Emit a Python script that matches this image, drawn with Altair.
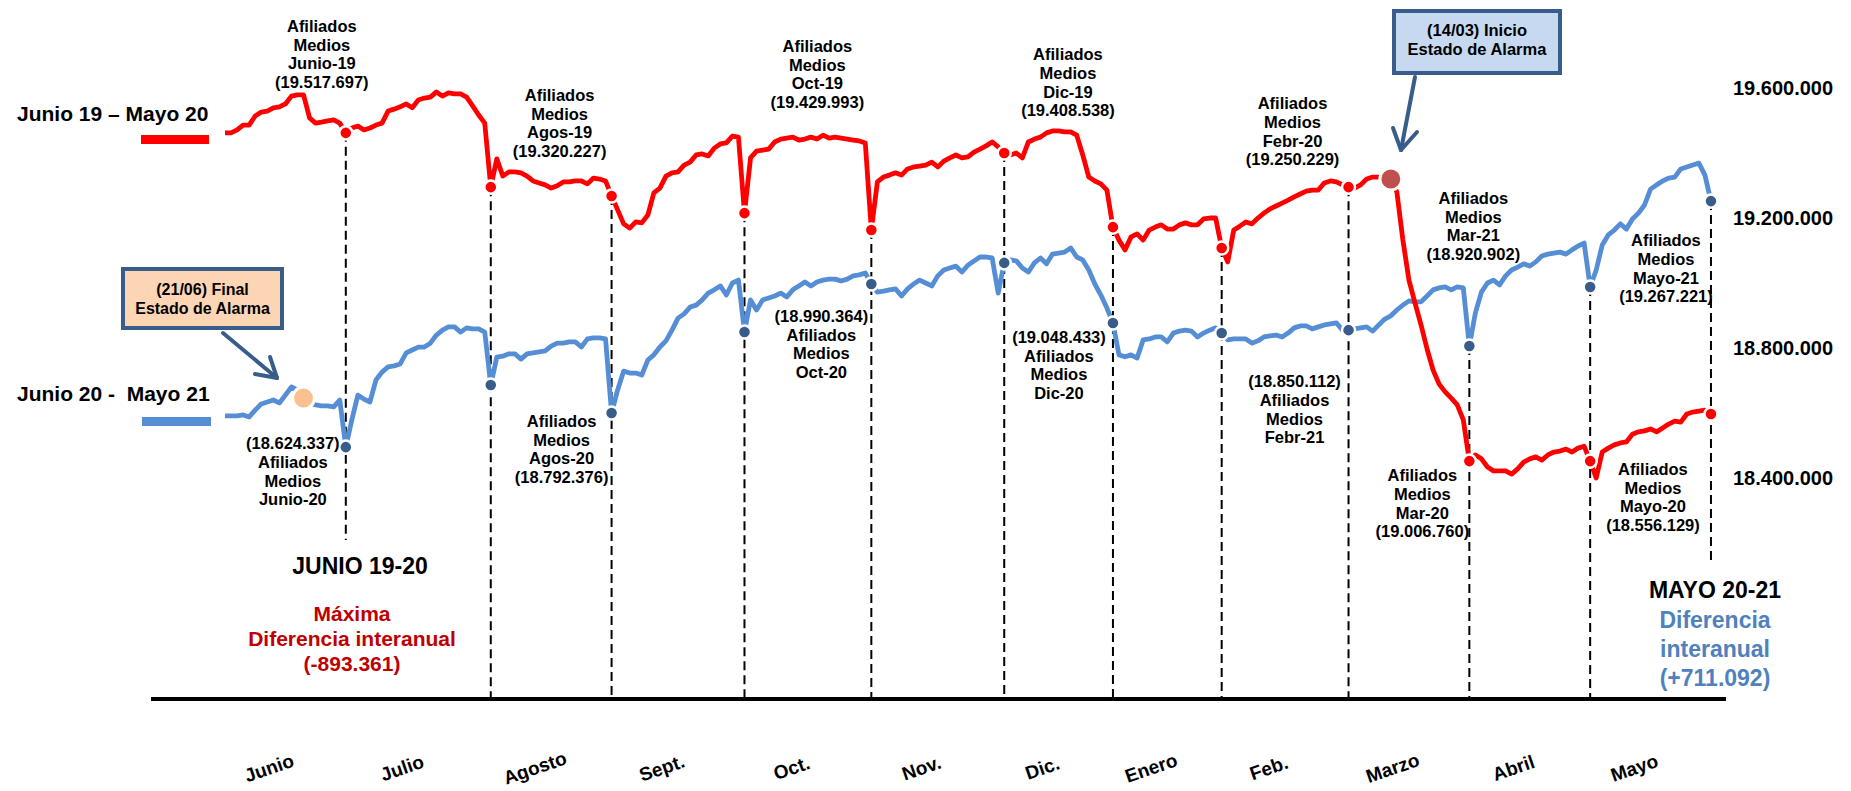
import altair as alt
import pandas as pd

F = "Liberation Sans, Arial, sans-serif"

MESES = ["Junio", "Julio", "Agosto", "Sept.", "Oct.", "Nov.", "Dic.",
         "Enero", "Feb.", "Marzo", "Abril", "Mayo"]

# Afiliados diarios (miles) - Junio 19 a Mayo 20
jun19 = [19465,19465,19474,19489,19489,19517,19529,19532,19542,19545,19554,19578,19582,19582,19511,19495,19498,19502,19505,19495,19465]
jul19 = [19480,19486,19474,19480,19489,19495,19532,19538,19545,19554,19542,19566,19572,19575,19591,19578,19588,19585,19585,19575,19548,19520,19495,19298]
ago19 = [19385,19332,19345,19345,19342,19332,19317,19311,19305,19295,19302,19314,19314,19317,19317,19308,19326,19323,19317,19271]
sep19 = [19228,19185,19172,19191,19188,19212,19280,19295,19332,19342,19345,19366,19375,19397,19400,19394,19418,19431,19434,19455,19452,19218]
oct19 = [19388,19409,19412,19415,19437,19446,19449,19452,19443,19446,19452,19446,19458,19449,19452,19449,19446,19443,19440,19434,19166]
nov19 = [19314,19329,19335,19342,19335,19354,19360,19363,19366,19375,19360,19378,19388,19397,19388,19391,19406,19415,19425,19437,19422,19403]
dic19 = [19397,19403,19388,19437,19446,19452,19465,19471,19471,19468,19468,19458,19397,19329,19317,19308,19289,19175]
ene20 = [19135,19105,19145,19154,19135,19166,19175,19182,19169,19169,19182,19188,19182,19182,19200,19203,19203,19111]
feb20 = [19068,19166,19178,19191,19185,19203,19218,19231,19240,19249,19258,19268,19277,19286,19289,19289,19311,19317,19314,19305,19298]
mar20 = [19295,19305,19323,19329,19329,19329,19323,19283,19135,19012,18942,18874,18800,18735,18692,18668,18649,18628,18582,18455]
abr20 = [18474,18462,18437,18425,18425,18425,18415,18431,18452,18462,18468,18458,18474,18483,18486,18492,18483,18495,18501,18455]
may20 = [18403,18483,18495,18505,18511,18514,18538,18545,18548,18554,18545,18557,18569,18578,18575,18600,18606,18609,18612,18600]

# Afiliados diarios (miles) - Junio 20 a Mayo 21
jun20 = [18594,18594,18594,18597,18591,18612,18631,18637,18643,18634,18658,18683,18674,18649,18634,18628,18625,18625,18622,18643,18498]
jul20 = [18582,18658,18646,18637,18705,18729,18745,18748,18754,18788,18797,18806,18806,18818,18843,18858,18868,18868,18852,18865,18862,18862,18852,18689]
ago20 = [18775,18778,18785,18785,18769,18785,18788,18791,18794,18809,18818,18818,18822,18822,18806,18831,18834,18834,18831,18603]
sep20 = [18674,18732,18726,18726,18720,18766,18782,18806,18825,18858,18895,18908,18929,18935,18951,18972,18982,18994,18966,19003,19012,18852]
oct20 = [18951,18920,18951,18957,18963,18972,18960,18982,18994,19006,18994,19006,19012,19015,19015,19009,19015,19025,19028,19034,19000]
nov20 = [18975,18978,18982,18985,18963,18985,19000,19012,19003,18994,19025,19043,19049,19055,19037,19058,19071,19083,19083,19080,18972,19065]
dic20 = [19074,19071,19049,19037,19065,19080,19062,19092,19095,19098,19111,19083,19074,19043,19000,18966,18926,18880]
ene21 = [18782,18776,18782,18772,18828,18831,18837,18837,18822,18849,18855,18858,18855,18837,18849,18858,18865,18849]
feb21 = [18828,18831,18831,18831,18818,18825,18837,18840,18843,18837,18849,18865,18871,18871,18862,18868,18874,18877,18880,18858,18858]
mar21 = [18862,18865,18868,18855,18874,18892,18902,18920,18935,18948,18945,18945,18963,18982,18988,18991,18982,18991,18988,18809]
abr21 = [18911,18975,19003,19012,18997,19025,19043,19052,19062,19055,19068,19086,19092,19095,19098,19092,19105,19117,19126,18991]
may21 = [19043,19120,19151,19166,19185,19169,19200,19218,19243,19292,19305,19317,19326,19329,19354,19360,19366,19372,19335,19255]

SERIE_A = [jun19, jul19, ago19, sep19, oct19, nov19, dic19, ene20, feb20, mar20, abr20, may20]
SERIE_B = [jun20, jul20, ago20, sep20, oct20, nov20, dic20, ene21, feb21, mar21, abr21, may21]

TICKS = [18400000, 18800000, 19200000, 19600000]

# Afiliados medios mensuales anotados
LAB_MES_IDX = [0, 2, 4, 6, 8, 9, 11]
LAB_A = ["Junio-19", "Agos-19", "Oct-19", "Dic-19", "Febr-20", "Mar-20", "Mayo-20"]
LAB_B = ["Junio-20", "Agos-20", "Oct-20", "Dic-20", "Febr-21", "Mar-21", "Mayo-21"]
MEDIA_A = [19517697, 19320227, 19429993, 19408538, 19250229, 19006760, 18556129]
MEDIA_B = [18624337, 18792376, 18990364, 19048433, 18850112, 18920902, 19267221]

# --- styling (offsets of annotation blocks, px) ---
OFF_A = [(-24, -107), (-52, -101), (-54, -184), (-45, -173), (-56, -84), (-47, 14), (-58, 55)]
OFF_B = [(-53, -4), (-50, 8), (-50, 32), (-54, 14), (-54, 51), (4, -148), (-45, 39)]
VALUE_FIRST_B = [True, False, True, True, True, False, False]

RED = "#FF0000"
BLUE = "#558ED5"
NAVY = "#385D8A"


def fmt_num(n):
    return f"{n:,}".replace(",", ".")


# ---------------- data tables ----------------
rows_a, rows_b, ends, starts = [], [], [], []
i = 0
for ma, mb in zip(SERIE_A, SERIE_B):
    starts.append(i)
    for a, b in zip(ma, mb):
        rows_a.append({"idx": i, "v": a * 1000})
        rows_b.append({"idx": i, "v": b * 1000})
        i += 1
    ends.append(i - 1)
df_a = pd.DataFrame(rows_a)
df_b = pd.DataFrame(rows_b)

end_a = [m[-1] * 1000 for m in SERIE_A]
end_b = [m[-1] * 1000 for m in SERIE_B]
dots_a = [{"idx": e, "v": v} for e, v in zip(ends, end_a)]
dots_b = [{"idx": e, "v": v} for e, v in zip(ends, end_b)]
tops = [{"idx": e, "v": max(a, b)} for e, a, b in zip(ends, end_a, end_b)]
tick_rows = [{"v": t, "lab": fmt_num(t)} for t in TICKS]

mes_rows = []
for m, name in enumerate(MESES):
    s = ends[m - 1] if m > 0 else 0
    mes_rows.append({"idx": (s + ends[m]) / 2, "mes": name})

XS = alt.Scale(domain=[-35.923, 267.03], nice=False, zero=False)
YS = alt.Scale(domain=[17440000, 19849200], nice=False, zero=False)
ONE = alt.Data(values=[{"k": 0}])


def X():
    return alt.X("idx:Q", scale=XS, axis=None)


def Y():
    return alt.Y("v:Q", scale=YS, axis=None)


layers = []

# dashed month-end guides
dash = dict(color="black", strokeDash=[9, 5], strokeWidth=2)
layers.append(alt.Chart(alt.Data(values=tops[1:11])).mark_rule(**dash).encode(
    x=X(), y=Y(), y2=alt.value(691)))
layers.append(alt.Chart(alt.Data(values=tops[0:1])).mark_rule(**dash).encode(
    x=X(), y=Y(), y2=alt.value(532)))
layers.append(alt.Chart(alt.Data(values=tops[11:12])).mark_rule(**dash).encode(
    x=X(), y=Y(), y2=alt.value(555)))

# baseline
layers.append(alt.Chart(ONE).mark_rule(color="black", strokeWidth=4).encode(
    x=alt.value(143), x2=alt.value(1718), y=alt.value(691)))

# lines
layers.append(alt.Chart(df_b).mark_line(color=BLUE, strokeWidth=4.8, strokeJoin="round").encode(
    x=X(), y=Y()))
layers.append(alt.Chart(df_a).mark_line(color=RED, strokeWidth=4.8, strokeJoin="round").encode(
    x=X(), y=Y()))

# month-end dots
layers.append(alt.Chart(alt.Data(values=dots_b)).mark_circle(
    size=170, fill=NAVY, stroke="white", strokeWidth=2.5, opacity=1).encode(x=X(), y=Y()))
layers.append(alt.Chart(alt.Data(values=dots_a)).mark_circle(
    size=170, fill=RED, stroke="white", strokeWidth=2.5, opacity=1).encode(x=X(), y=Y()))

# event circles: 21/06 end of alarm (2020-21 line), 14/03 start of alarm (2019-20 line)
ev_fin = [{"idx": starts[0] + 13, "v": jun20[13] * 1000}]
ev_ini = [{"idx": starts[9] + 6, "v": mar20[6] * 1000}]
layers.append(alt.Chart(alt.Data(values=ev_fin)).mark_circle(
    size=480, fill="#FAC090", stroke="white", strokeWidth=3, opacity=1).encode(x=X(), y=Y()))
layers.append(alt.Chart(alt.Data(values=ev_ini)).mark_circle(
    size=480, fill="#C0504D", stroke="white", strokeWidth=3, opacity=1).encode(x=X(), y=Y()))

# right-hand value scale labels
layers.append(alt.Chart(alt.Data(values=tick_rows)).mark_text(
    align="left", baseline="middle", font=F, fontSize=20, fontWeight="bold",
    color="black").encode(x=alt.value(1725), y=Y(), text="lab:N"))


def seg(x1, y1, x2, y2, color=NAVY, w=4, cap="round"):
    return alt.Chart(ONE).mark_rule(color=color, strokeWidth=w, strokeCap=cap).encode(
        x=alt.value(x1), y=alt.value(y1), x2=alt.value(x2), y2=alt.value(y2))


def txt(lines, x, y, size, color="black", align="center", baseline="top", lh=None):
    return alt.Chart(ONE).mark_text(
        text=lines, align=align, baseline=baseline, font=F, fontSize=size,
        fontWeight="bold", color=color, lineHeight=lh or round(size * 1.2, 1)).encode(
        x=alt.value(x), y=alt.value(y))


# callout boxes
layers.append(alt.Chart(ONE).mark_rect(fill="#FCD5B5", stroke=NAVY, strokeWidth=4).encode(
    x=alt.value(115), x2=alt.value(274), y=alt.value(261), y2=alt.value(320)))
layers.append(txt(["(21/06) Final", "Estado de Alarma"], 194.5, 274, 16, lh=19))
layers.append(alt.Chart(ONE).mark_rect(fill="#C6D9F1", stroke=NAVY, strokeWidth=4).encode(
    x=alt.value(1386), x2=alt.value(1552), y=alt.value(3), y2=alt.value(65)))
layers.append(txt(["(14/03) Inicio", "Estado de Alarma"], 1469, 15, 16.5, lh=19))

# arrows
layers += [seg(215, 325, 269, 370), seg(269, 370, 247, 366), seg(269, 370, 262, 349)]
layers += [seg(1407, 69, 1393, 142), seg(1393, 142, 1385, 120), seg(1393, 142, 1409, 124)]

# legend
layers.append(txt("Junio 19 \u2013 Mayo 20", 9, 107, 21, align="left", baseline="middle"))
layers.append(seg(133, 131.5, 201, 131.5, color=RED, w=9, cap="butt"))
layers.append(txt("Junio 20 -\u00a0 Mayo 21", 9, 387, 21, align="left", baseline="middle"))
layers.append(seg(134, 413.5, 203, 413.5, color=BLUE, w=9, cap="butt"))

# monthly-average annotations
for k, m in enumerate(LAB_MES_IDX):
    lines = ["Afiliados", "Medios", LAB_A[k], "(" + fmt_num(MEDIA_A[k]) + ")"]
    dx, dy = OFF_A[k]
    layers.append(alt.Chart(alt.Data(values=[{"idx": ends[m], "v": end_a[m], "t": lines}])).mark_text(
        dx=dx, dy=dy - 7, align="center", baseline="top", font=F, fontSize=16.5,
        fontWeight="bold", color="black", lineHeight=18.7).encode(x=X(), y=Y(), text="t:N"))
for k, m in enumerate(LAB_MES_IDX):
    val = "(" + fmt_num(MEDIA_B[k]) + ")"
    if VALUE_FIRST_B[k]:
        lines = [val, "Afiliados", "Medios", LAB_B[k]]
    else:
        lines = ["Afiliados", "Medios", LAB_B[k], val]
    dx, dy = OFF_B[k]
    layers.append(alt.Chart(alt.Data(values=[{"idx": ends[m], "v": end_b[m], "t": lines}])).mark_text(
        dx=dx, dy=dy - 7, align="center", baseline="top", font=F, fontSize=16.5,
        fontWeight="bold", color="black", lineHeight=18.7).encode(x=X(), y=Y(), text="t:N"))

# bottom texts
layers.append(txt("JUNIO 19-20", 352, 559, 23, baseline="middle"))
layers.append(txt(["M\u00e1xima", "Diferencia interanual", "(-893.361)"], 344, 596, 21,
                  color="#C00000", lh=25))
layers.append(txt("MAYO 20-21", 1707, 583, 23, baseline="middle"))
layers.append(txt(["Diferencia", "interanual", "(+711.092)"], 1707, 602, 23,
                  color="#4F81BD", lh=29))

# month labels
layers.append(alt.Chart(alt.Data(values=mes_rows)).mark_text(
    angle=341, dx=-17, align="center", baseline="middle", font=F, fontSize=19,
    fontWeight="bold", color="black").encode(x=X(), y=alt.value(755), text="mes:N"))

chart = alt.layer(*layers).properties(
    width=1830, height=783, padding=0,
    autosize=alt.AutoSizeParams(type="none"), background="white"
).configure_view(strokeWidth=0)

chart.save("out.html", embed_options={"renderer": "svg", "actions": False})
